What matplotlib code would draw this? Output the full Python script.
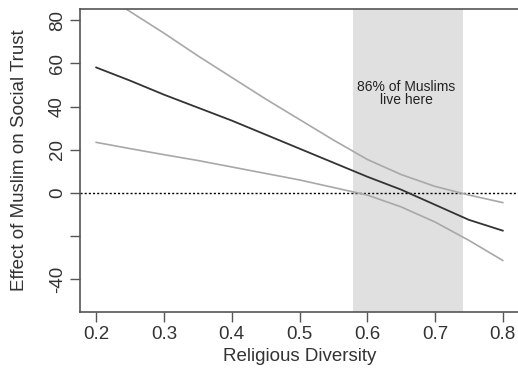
import matplotlib
matplotlib.use("Agg")
import matplotlib.pyplot as plt

# Data
diversity = [0.2, 0.25, 0.3, 0.35, 0.4, 0.45, 0.5, 0.55, 0.6, 0.65, 0.7, 0.75, 0.8]
effect = [58.1, 52, 45.5, 39.5, 33.5, 27, 20.5, 14, 7.5, 1.5, -5.5, -12.5, -17.5]
upper = [94, 84, 74, 63.5, 53.5, 43.5, 34, 24.5, 15.5, 8.5, 3, -1, -4.5]
lower = [23.4, 20.5, 17.7, 15, 12, 9, 6, 2.5, -1, -6.5, -13.5, -22, -31.3]
band = [0.579, 0.741]
xticks = [0.2, 0.3, 0.4, 0.5, 0.6, 0.7, 0.8]
xticklabels = ["0.2", "0.3", "0.4", "0.5", "0.6", "0.7", "0.8"]
yticks = [80, 60, 40, 20, 0, -20, -40]
yticklabels = ["80", "60", "40", "20", "0", "", "-40"]

plt.rcParams['font.family'] = ['Liberation Sans', 'DejaVu Sans']

fig = plt.figure(figsize=(5.18, 3.83), dpi=100)
ax = fig.add_axes([80 / 518, 71 / 383, 439 / 518, 303 / 383])

ax.axvspan(band[0], band[1], color="#e0e0e0", lw=0, zorder=0)
ax.axhline(0, color="black", ls=(0, (1.5, 1.5)), lw=1.0, zorder=1)
ax.plot(diversity, upper, color="#a8a8a8", lw=1.2, zorder=2)
ax.plot(diversity, lower, color="#a8a8a8", lw=1.2, zorder=2)
ax.plot(diversity, effect, color="#333333", lw=1.3, zorder=3)

ax.text(0.658, 46, "86% of Muslims\nlive here", ha="center", va="center",
        fontsize=10, color="#222222", linespacing=0.85)

ax.set_xlim(0.176, 0.824)
ax.set_ylim(-55.2, 85.2)
ax.set_xticks(xticks)
ax.set_xticklabels(xticklabels)
ax.set_yticks(yticks)
ax.set_yticklabels(yticklabels, rotation=90, va="center")

for s in ax.spines.values():
    s.set_color("#555555")
    s.set_linewidth(1.2)

ax.tick_params(axis="both", direction="out", length=7, width=1.0,
               color="#555555", labelcolor="#333333", labelsize=13.5, pad=3)

ax.set_xlabel("Religious Diversity", fontsize=13.5, color="#333333", labelpad=4)
ax.set_ylabel("Effect of Muslim on Social Trust", fontsize=13.5, color="#333333", labelpad=15)

fig.savefig("out.png", dpi=100, facecolor="white")
